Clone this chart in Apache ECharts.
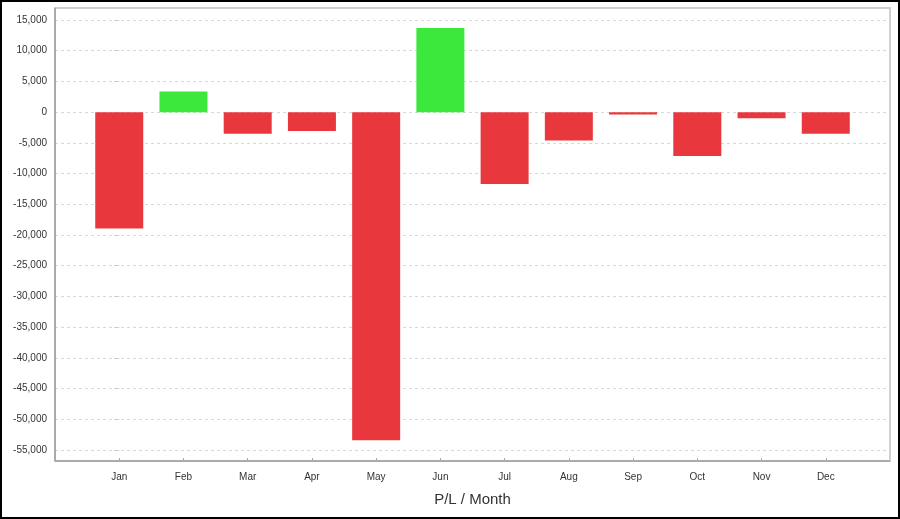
<!DOCTYPE html>
<html>
<head>
<meta charset="utf-8">
<script src="https://cdn.jsdelivr.net/npm/echarts@6/dist/echarts.min.js"></script>
<style>
html,body{margin:0;padding:0;background:#fff;}
#chart{width:900px;height:519px;}
</style>
</head>
<body>
<div id="chart"></div>
<script>
var months = ['Jan','Feb','Mar','Apr','May','Jun','Jul','Aug','Sep','Oct','Nov','Dec'];
var plValues = [-18950, 3350, -3500, -3050, -53400, 13700, -11700, -4600, -400, -7150, -1000, -3500];
var yTicks = { min: -55000, max: 15000, step: 5000 };

var G = { left: 55, right: 10, top: 20, bottom: 69 };
var W = 900, H = 519;
var frameTop = 8, frameBottom = 461;

var chart = echarts.init(document.getElementById('chart'), null, { renderer: 'canvas' });
var font = 'Liberation Sans, Arial, sans-serif';

chart.setOption({
  backgroundColor: '#fff',
  animation: false,
  grid: { left: G.left, right: G.right, top: G.top, bottom: G.bottom },
  xAxis: {
    type: 'value',
    min: -1,
    max: months.length,
    interval: 1,
    offset: frameBottom - (H - G.bottom),
    axisLine: { show: false, onZero: false },
    axisTick: { show: true, inside: true, length: 3, lineStyle: { color: '#aaa' } },
    splitLine: { show: false },
    axisLabel: {
      margin: 11,
      fontSize: 10,
      fontFamily: font,
      color: '#333',
      formatter: function (v) { return months[v] !== undefined ? months[v] : ''; }
    },
    name: 'P/L / Month',
    nameLocation: 'middle',
    nameGap: 31,
    nameTextStyle: { fontSize: 15, fontFamily: font, color: '#333' }
  },
  yAxis: {
    type: 'value',
    min: yTicks.min,
    max: yTicks.max,
    interval: yTicks.step,
    axisLine: { show: false },
    axisTick: { show: true, length: 5, lineStyle: { color: '#ccc' } },
    axisLabel: {
      margin: 8,
      fontSize: 10,
      fontFamily: font,
      color: '#333',
      formatter: function (v) { return v.toLocaleString('en-US'); }
    },
    splitLine: { show: true, lineStyle: { color: '#d8d8d8', type: [3, 3], width: 1 } }
  },
  series: [{
    type: 'bar',
    barWidth: 48,
    data: plValues.map(function (v, i) { return [i, v]; }),
    itemStyle: {
      color: function (p) { return p.value[1] >= 0 ? '#3be83b' : '#e8383d'; }
    }
  }],
  graphic: [
    { type: 'rect', shape: { x: G.left, y: frameTop, width: W - G.left - G.right, height: frameBottom - frameTop },
      style: { fill: 'none', stroke: '#d0d0d0', lineWidth: 2 }, z: 10 },
    { type: 'line', shape: { x1: G.left, y1: frameTop, x2: G.left, y2: frameBottom },
      style: { stroke: '#aaaaaa', lineWidth: 2 }, z: 11 },
    { type: 'line', shape: { x1: G.left, y1: frameBottom, x2: W - G.right, y2: frameBottom },
      style: { stroke: '#aaaaaa', lineWidth: 2 }, z: 11 },
    { type: 'rect', shape: { x: 1, y: 1, width: W - 2, height: H - 2 },
      style: { fill: 'none', stroke: '#000', lineWidth: 2 }, z: 12 }
  ]
});
</script>
</body>
</html>
